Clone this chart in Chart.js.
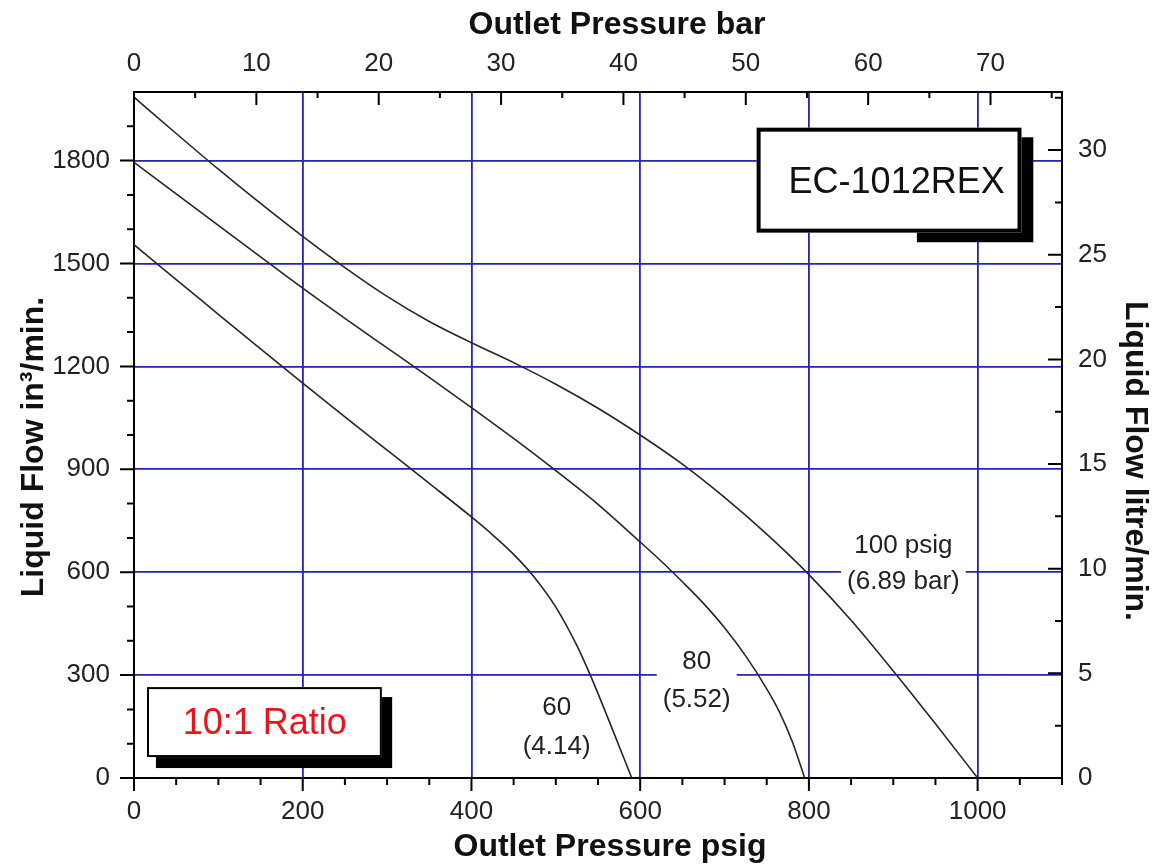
<!DOCTYPE html>
<html><head><meta charset="utf-8">
<script src="https://cdn.jsdelivr.net/npm/chart.js@4.4.1/dist/chart.umd.min.js"></script>
<style>html,body{margin:0;padding:0;background:#fff;}canvas{display:block;}</style>
</head><body>
<canvas id="c" width="1157" height="868"></canvas>
<script>
// ---- tick labels ----
const psigTicks = [0, 200, 400, 600, 800, 1000];
const barTicks = [0, 10, 20, 30, 40, 50, 60, 70];
const flowTicks = [0, 300, 600, 900, 1200, 1500, 1800];
const litreTicks = [0, 5, 10, 15, 20, 25, 30];

// ---- series (outlet pressure psig -> liquid flow in3/min) ----
const psig100 = [0, 50, 100, 150, 200, 250, 300, 350, 400, 450, 500, 550, 600, 650, 700, 750, 800, 850, 900, 950, 1000];
const flow100 = [1985, 1879, 1775, 1675, 1579, 1488, 1404, 1331, 1269, 1211, 1148, 1078, 1000, 915, 818, 711, 593, 460, 312, 158, 0];
const psig80 = [0, 50, 100, 150, 200, 250, 300, 350, 400, 450, 500, 550, 600, 625, 650, 675, 700, 725, 750, 765, 780, 795];
const flow80 = [1795, 1703, 1611, 1519, 1428, 1340, 1254, 1168, 1080, 990, 896, 798, 688, 632, 572, 509, 438, 356, 260, 193, 108, 0];
const psig60 = [0, 50, 100, 150, 200, 250, 300, 350, 400, 425, 450, 475, 500, 525, 540, 565, 590];
const flow60 = [1555, 1453, 1352, 1251, 1151, 1053, 956, 859, 761, 709, 652, 584, 498, 386, 305, 155, 0];

const PSI_PER_BAR = 14.5038;
const L_PER_IN3 = 0.016387064;
const PSIG_MAX = 1100;
const FLOW_MAX = 2000;

const BLUE = '#2323b4';
const FONT = '"Liberation Sans", Arial, sans-serif';
const TXT = '#222';

const curveLabels = [
  { lines: ['100 psig', '(6.89 bar)'], psig: 912, flow: [676, 571] },
  { lines: ['80', '(5.52)'], psig: 667, flow: [338, 227] },
  { lines: ['60', '(4.14)'], psig: 501, flow: [204, 90] }
];

function pts(xs, ys) { return xs.map((x, i) => ({ x: x, y: ys[i] })); }
function lineDs(xs, ys) {
  return { data: pts(xs, ys), borderColor: '#262626', borderWidth: 1.6, pointRadius: 0,
    cubicInterpolationMode: 'monotone', xAxisID: 'x', yAxisID: 'y', fill: false };
}
function fixTicks(arr) { return s => { s.ticks = arr.map(v => ({ value: v })); }; }
const tickFont = { family: FONT, size: 26 };
const gridColor = c => (c.tick && c.tick.value > 0) ? BLUE : 'rgba(0,0,0,0)';
const border = { display: true, color: '#000', width: 2 };

const decor = {
  id: 'decor',
  beforeDatasetsDraw(chart) {
    const ctx = chart.ctx, sx = chart.scales.x, sy = chart.scales.y;
    ctx.save();
    ctx.font = '26px ' + FONT;
    ctx.textAlign = 'center'; ctx.textBaseline = 'middle';
    curveLabels.forEach(l => {
      const cx = sx.getPixelForValue(l.psig);
      const ys = l.flow.map(f => sy.getPixelForValue(f));
      const w = Math.max(...l.lines.map(t => ctx.measureText(t).width)) + 12;
      const top = ys[0] - 18, bot = ys[ys.length - 1] + 18;
      ctx.fillStyle = '#fff';
      ctx.fillRect(cx - w / 2, top, w, bot - top);
      ctx.fillStyle = TXT;
      l.lines.forEach((t, i) => ctx.fillText(t, cx, ys[i]));
    });
    ctx.restore();
  },
  afterDatasetsDraw(chart) {
    const ctx = chart.ctx, sx = chart.scales.x, sy = chart.scales.y;
    const X = v => sx.getPixelForValue(v), Y = v => sy.getPixelForValue(v);
    function box(b) {
      ctx.fillStyle = '#000';
      ctx.fillRect(X(b.s[0]), Y(b.s[2]), X(b.s[1]) - X(b.s[0]), Y(b.s[3]) - Y(b.s[2]));
      const x0 = X(b.r[0]), x1 = X(b.r[1]), y0 = Y(b.r[2]), y1 = Y(b.r[3]);
      ctx.fillStyle = '#fff';
      ctx.fillRect(x0, y0, x1 - x0, y1 - y0);
      ctx.strokeStyle = '#000'; ctx.lineWidth = b.lw;
      ctx.strokeRect(x0 + b.lw / 2, y0 + b.lw / 2, x1 - x0 - b.lw, y1 - y0 - b.lw);
      ctx.font = b.font; ctx.fillStyle = b.color;
      ctx.textAlign = 'center'; ctx.textBaseline = 'middle';
      ctx.fillText(b.text, X(b.t[0]), Y(b.t[1]));
    }
    ctx.save();
    box({ r: [738, 1052, 1896, 1590], s: [928, 1066, 1868, 1562], lw: 4,
      text: 'EC-1012REX', font: '36px ' + FONT, color: '#111', t: [904, 1734] });
    box({ r: [15.4, 293.8, 265, 61], s: [26, 306, 236, 29], lw: 2,
      text: '10:1 Ratio', font: '36px ' + FONT, color: '#e8141c', t: [155, 158] });
    ctx.restore();
  },
  afterDraw(chart) {
    const ctx = chart.ctx, ca = chart.chartArea;
    const sx = chart.scales.x, sx2 = chart.scales.x2, sy = chart.scales.y, sy2 = chart.scales.y2;
    ctx.save();
    ctx.strokeStyle = '#000'; ctx.lineWidth = 2;
    ctx.beginPath();
    for (let v = 0; v <= PSIG_MAX + 1e-6; v += 50) {
      const p = sx.getPixelForValue(v), len = v % 200 === 0 ? 13 : 7;
      ctx.moveTo(p, ca.bottom); ctx.lineTo(p, ca.bottom + len);
    }
    for (let v = 0; v <= sx2.max + 1e-6; v += 5) {
      const p = sx2.getPixelForValue(v), len = v % 10 === 0 ? 13 : 6;
      ctx.moveTo(p, ca.top); ctx.lineTo(p, ca.top + len);
    }
    for (let v = 0; v < FLOW_MAX; v += 100) {
      const p = sy.getPixelForValue(v), len = v % 300 === 0 ? 14 : 7;
      ctx.moveTo(ca.left - len, p); ctx.lineTo(ca.left, p);
    }
    for (let v = 0; v <= sy2.max + 1e-6; v += 2.5) {
      const p = sy2.getPixelForValue(v), len = v % 5 === 0 ? 14 : 7;
      ctx.moveTo(ca.right - len, p); ctx.lineTo(ca.right, p);
    }
    ctx.stroke();
    // axis titles
    ctx.fillStyle = '#111';
    ctx.font = 'bold 32px ' + FONT;
    ctx.textAlign = 'center'; ctx.textBaseline = 'middle';
    ctx.fillText('Outlet Pressure bar', 617, 25);
    ctx.fillText('Outlet Pressure psig', 610, 847);
    ctx.save(); ctx.translate(34, 447); ctx.rotate(-Math.PI / 2);
    ctx.fillText('Liquid Flow in\u00B3/min.', 0, 0); ctx.restore();
    ctx.save(); ctx.translate(1135, 461); ctx.rotate(Math.PI / 2);
    ctx.fillText('Liquid Flow litre/min.', 0, 0); ctx.restore();
    ctx.restore();
  }
};

new Chart(document.getElementById('c'), {
  type: 'line',
  data: { datasets: [lineDs(psig100, flow100), lineDs(psig80, flow80), lineDs(psig60, flow60)] },
  options: {
    responsive: false, animation: false, devicePixelRatio: 1,
    layout: { padding: 0 },
    plugins: { legend: { display: false }, tooltip: { enabled: false }, title: { display: false } },
    scales: {
      x: { type: 'linear', position: 'bottom', min: 0, max: PSIG_MAX,
        afterBuildTicks: fixTicks(psigTicks), afterFit: s => { s.height = 90; },
        ticks: { autoSkip: false, maxRotation: 0, padding: 18, font: tickFont, color: TXT, callback: v => String(v) },
        grid: { color: gridColor, lineWidth: 1.8, drawTicks: false }, border: border },
      x2: { type: 'linear', position: 'top', min: 0, max: PSIG_MAX / PSI_PER_BAR,
        afterBuildTicks: fixTicks(barTicks), afterFit: s => { s.height = 92; },
        ticks: { autoSkip: false, maxRotation: 0, padding: 13, font: tickFont, color: TXT, callback: v => String(v) },
        grid: { display: false, drawTicks: false }, border: border },
      y: { type: 'linear', position: 'left', min: 0, max: FLOW_MAX,
        afterBuildTicks: fixTicks(flowTicks), afterFit: s => { s.width = 134; },
        ticks: { autoSkip: false, padding: 24, font: tickFont, color: TXT, callback: v => String(v) },
        grid: { color: gridColor, lineWidth: 1.8, drawTicks: false }, border: border },
      y2: { type: 'linear', position: 'right', min: 0, max: FLOW_MAX * L_PER_IN3,
        afterBuildTicks: fixTicks(litreTicks), afterFit: s => { s.width = 95; },
        ticks: { autoSkip: false, padding: 16, font: tickFont, color: TXT, callback: v => String(v) },
        grid: { display: false, drawTicks: false }, border: border }
    }
  },
  plugins: [decor]
});
</script>
</body></html>
